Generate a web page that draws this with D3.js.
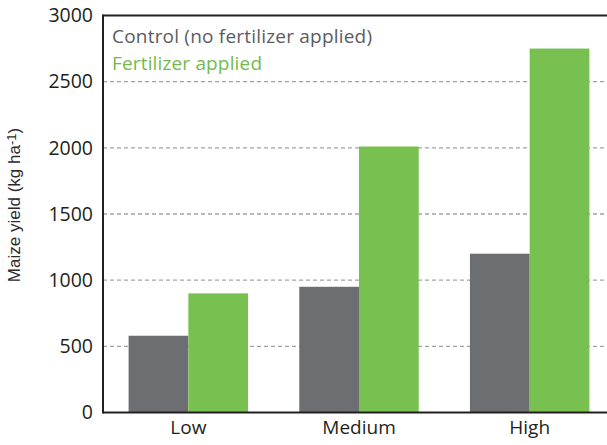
<!DOCTYPE html>
<html>
<head>
<meta charset="utf-8">
<script src="https://cdn.jsdelivr.net/npm/d3@7"></script>
<style>
  html, body { margin: 0; padding: 0; background: #fff; }
  svg { display: block; }
</style>
</head>
<body>
<svg id="chart" width="607" height="445"></svg>
<script>
// Maize yield by soil fertility level, with and without fertilizer
const categories = ["Low", "Medium", "High"];
const seriesNames = ["Control (no fertilizer applied)", "Fertilizer applied"];
const controlValues = [580, 950, 1200];
const fertilizerValues = [900, 2010, 2750];
const yTicks = [0, 500, 1000, 1500, 2000, 2500, 3000];

const colors = { control: "#6d6e72", fertilizer: "#78c151", controlText: "#5b5c5f", fertilizerText: "#74ba49" };

const svg = d3.select("#chart");
const margin = { left: 103, top: 15.5, bottom: 412.5 };

const x = d3.scaleBand()
  .domain(categories)
  .range([margin.left, 615])
  .paddingInner(0.3)
  .paddingOuter(0.15);

const xSub = d3.scaleBand()
  .domain(["control", "fertilizer"])
  .range([0, x.bandwidth()]);

const y = d3.scaleLinear()
  .domain([0, 3000])
  .range([margin.bottom, margin.top]);

// dashed horizontal gridlines
svg.append("g")
  .selectAll("line")
  .data(yTicks.filter(d => d > 0 && d < 3000))
  .join("line")
  .attr("x1", margin.left)
  .attr("x2", 607)
  .attr("y1", d => y(d))
  .attr("y2", d => y(d))
  .attr("stroke", "#a3a3a3")
  .attr("stroke-width", 1.3)
  .attr("stroke-dasharray", "4,3");

// bars
const rows = categories.map((c, i) => ({ cat: c, control: controlValues[i], fertilizer: fertilizerValues[i] }));
const groups = svg.append("g")
  .selectAll("g")
  .data(rows)
  .join("g")
  .attr("transform", d => `translate(${x(d.cat)},0)`);

groups.selectAll("rect")
  .data(d => ["control", "fertilizer"].map(k => ({ key: k, value: d[k] })))
  .join("rect")
  .attr("x", d => xSub(d.key))
  .attr("width", xSub.bandwidth())
  .attr("y", d => y(d.value))
  .attr("height", d => y(0) - y(d.value))
  .attr("fill", d => colors[d.key]);

// y axis
const yAxis = svg.append("g")
  .attr("transform", `translate(${margin.left},0)`)
  .call(d3.axisLeft(y).tickValues(yTicks).tickFormat(d3.format("d")).tickSize(0).tickPadding(10));
yAxis.select(".domain").remove();
yAxis.selectAll("text")
  .attr("font-family", "'Open Sans', sans-serif")
  .attr("font-size", 19.5)
  .attr("fill", "#231f20");

// x axis
const xAxis = svg.append("g")
  .attr("transform", `translate(0,${margin.bottom})`)
  .call(d3.axisBottom(x).tickSize(0).tickPadding(8));
xAxis.select(".domain").remove();
xAxis.selectAll("text")
  .attr("font-family", "'Open Sans', sans-serif")
  .attr("font-size", 19)
  .attr("fill", "#231f20");

// frame: left, bottom and top lines
svg.append("line")
  .attr("x1", margin.left).attr("x2", margin.left)
  .attr("y1", margin.top - 1).attr("y2", margin.bottom + 1)
  .attr("stroke", "#231f20").attr("stroke-width", 2);
svg.append("line")
  .attr("x1", margin.left).attr("x2", 607)
  .attr("y1", margin.bottom).attr("y2", margin.bottom)
  .attr("stroke", "#231f20").attr("stroke-width", 2);
svg.append("line")
  .attr("x1", margin.left).attr("x2", 607)
  .attr("y1", margin.top).attr("y2", margin.top)
  .attr("stroke", "#231f20").attr("stroke-width", 2);

// legend
const legend = svg.append("g").attr("font-family", "'Open Sans', sans-serif").attr("font-size", 19);
legend.append("text")
  .attr("x", 112).attr("y", 43)
  .attr("fill", colors.controlText)
  .attr("textLength", 260)
  .text(seriesNames[0]);
legend.append("text")
  .attr("x", 112).attr("y", 70)
  .attr("fill", colors.fertilizerText)
  .attr("textLength", 150)
  .text(seriesNames[1]);

// y axis title
const yTitle = svg.append("text")
  .attr("transform", "translate(20,205) rotate(-90)")
  .attr("text-anchor", "middle")
  .attr("font-family", "'Liberation Sans', Arial, sans-serif")
  .attr("font-size", 17)
  .attr("fill", "#2b2b2b");
yTitle.append("tspan").text("Maize yield (kg ha");
yTitle.append("tspan").attr("dy", -4).attr("font-size", 13).text("-1");
yTitle.append("tspan").attr("dy", 4).text(")");
</script>
</body>
</html>
